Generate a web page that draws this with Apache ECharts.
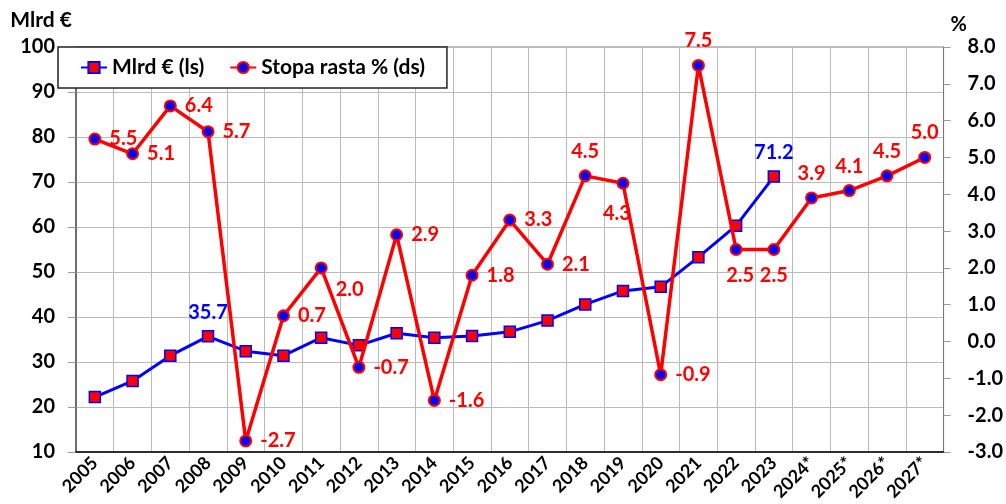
<!DOCTYPE html>
<html>
<head>
<meta charset="utf-8">
<script src="https://cdn.jsdelivr.net/npm/echarts@6/dist/echarts.min.js"></script>
<style>
  html, body { margin: 0; padding: 0; background: #fff; }
  #chart { width: 1006px; height: 504px; }
</style>
</head>
<body>
<div id="chart"></div>
<script>
var categories = ["2005", "2006", "2007", "2008", "2009", "2010", "2011", "2012", "2013", "2014",
  "2015", "2016", "2017", "2018", "2019", "2020", "2021", "2022", "2023",
  "2024*", "2025*", "2026*", "2027*"];
// Mlrd € (lijeva skala)
var mlrd = [22.2, 25.8, 31.4, 35.7, 32.4, 31.4, 35.4, 33.7, 36.4, 35.4,
  35.8, 36.7, 39.2, 42.8, 45.8, 46.7, 53.3, 60.3, 71.2];
// Stopa rasta % (desna skala)
var stopa = [5.5, 5.1, 6.4, 5.7, -2.7, 0.7, 2.0, -0.7, 2.9, -1.6,
  1.8, 3.3, 2.1, 4.5, 4.3, -0.9, 7.5, 2.5, 2.5, 3.9, 4.1, 4.5, 5.0];
var leftTicks = [10, 100, 10];
var rightTicks = [-3, 8, 1];

var FONT = "Lato";

// koje točke plave serije imaju natpis
var blueLabelIdx = [3, 18];

// raspored natpisa crvene serije
var redLabelPos = {
  6: { position: "right", offset: [0, 22] },
  13: { position: "top" },
  14: { position: "bottom", offset: [-6, 6] },
  16: { position: "top" },
  17: { position: "bottom", offset: [4, 2] },
  18: { position: "bottom", offset: [0, 2] },
  19: { position: "top" },
  20: { position: "top" },
  21: { position: "top" },
  22: { position: "top" }
};

var blueData = mlrd.map(function (v, i) {
  return {
    value: v,
    label: { show: blueLabelIdx.indexOf(i) >= 0 }
  };
});

var redData = stopa.map(function (v, i) {
  var p = redLabelPos[i] || { position: "right" };
  return {
    value: v,
    label: {
      show: true,
      position: p.position,
      offset: p.offset || [0, 0]
    }
  };
});

var chart = echarts.init(document.getElementById("chart"));
chart.setOption({
  animation: false,
  textStyle: { fontFamily: FONT },
  grid: {
    left: 76,
    right: 60,
    top: 47,
    bottom: 52,
    show: true,
    borderColor: "#777",
    borderWidth: 1
  },
  legend: {
    left: 58,
    top: 47,
    padding: [10, 22, 10, 22],
    itemGap: 25,
    itemWidth: 26,
    itemHeight: 14,
    backgroundColor: "#fff",
    borderColor: "#222",
    borderWidth: 1.5,
    textStyle: { fontSize: 21, fontWeight: "bold", color: "#000", fontFamily: FONT },
    data: ["Mlrd € (ls)", "Stopa rasta % (ds)"]
  },
  xAxis: {
    type: "category",
    data: categories,
    boundaryGap: true,
    axisLine: { onZero: false, lineStyle: { color: "#000", width: 1.5 } },
    axisTick: { show: false },
    splitLine: { show: true, interval: 0, lineStyle: { color: "#bbb", width: 1 } },
    axisLabel: {
      interval: 0,
      rotate: 45,
      margin: 8,
      color: "#000",
      fontSize: 18,
      fontWeight: "bold",
      fontFamily: FONT
    }
  },
  yAxis: [
    {
      type: "value",
      min: leftTicks[0],
      max: leftTicks[1],
      interval: leftTicks[2],
      name: "Mlrd €",
      nameLocation: "end",
      nameGap: 16,
      nameTextStyle: {
        align: "right",
        padding: [0, 4, 0, 0],
        fontSize: 21,
        fontWeight: "bold",
        color: "#000",
        fontFamily: FONT
      },
      axisLine: { show: true, lineStyle: { color: "#555", width: 1.5 } },
      axisTick: { show: true, length: 8, lineStyle: { color: "#999" } },
      splitLine: { show: true, lineStyle: { color: "#bbb", width: 1 } },
      axisLabel: {
        margin: 21,
        color: "#000",
        fontSize: 20,
        fontWeight: "bold",
        fontFamily: FONT
      }
    },
    {
      type: "value",
      min: rightTicks[0],
      max: rightTicks[1],
      interval: rightTicks[2],
      position: "right",
      name: "%",
      nameLocation: "end",
      nameGap: 12,
      nameTextStyle: {
        align: "left",
        padding: [0, 0, 0, 7],
        fontSize: 20,
        fontWeight: "bold",
        color: "#000",
        fontFamily: FONT
      },
      axisLine: { show: true, lineStyle: { color: "#777", width: 1 } },
      axisTick: { show: true, length: 7, lineStyle: { color: "#999" } },
      splitLine: { show: false },
      axisLabel: {
        margin: 24,
        color: "#000",
        fontSize: 20,
        fontWeight: "bold",
        fontFamily: FONT,
        formatter: function (v) { return v.toFixed(1); }
      }
    }
  ],
  series: [
    {
      name: "Mlrd € (ls)",
      type: "line",
      yAxisIndex: 0,
      data: blueData,
      symbol: "rect",
      symbolSize: 11,
      showAllSymbol: true,
      lineStyle: { color: "#0000ff", width: 3 },
      itemStyle: { color: "#ff0000", borderColor: "#0000ff", borderWidth: 1.5 },
      label: {
        position: "top",
        distance: 8,
        color: "#0000ff",
        fontSize: 20,
        fontWeight: "bold",
        fontFamily: FONT
      },
      z: 2
    },
    {
      name: "Stopa rasta % (ds)",
      type: "line",
      yAxisIndex: 1,
      data: redData,
      symbol: "circle",
      symbolSize: 11,
      showAllSymbol: true,
      lineStyle: { color: "#ff0000", width: 3.5 },
      itemStyle: { color: "#0000ff", borderColor: "#ff0000", borderWidth: 2 },
      label: {
        distance: 8,
        color: "#ff0000",
        fontSize: 20,
        fontWeight: "bold",
        fontFamily: FONT,
        formatter: function (p) { return p.value.toFixed(1); }
      },
      z: 3
    }
  ]
});
</script>
</body>
</html>
